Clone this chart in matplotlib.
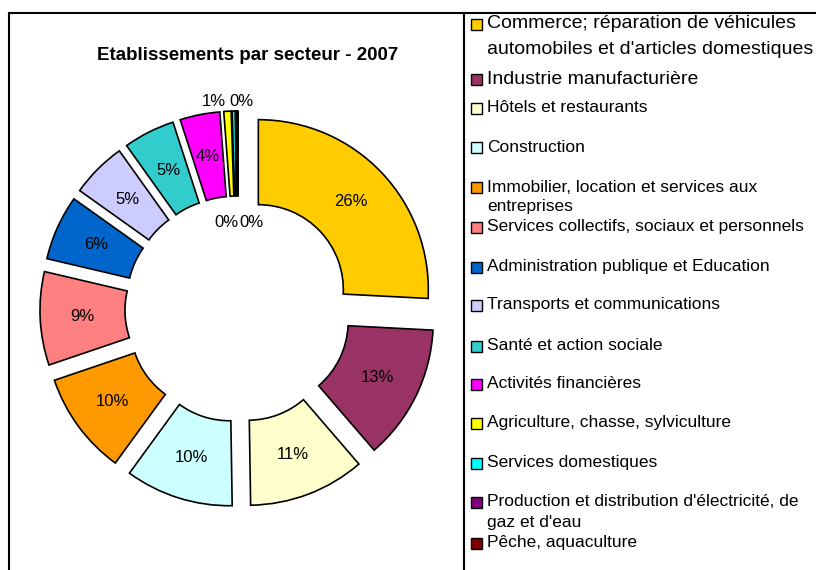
import numpy as np
import matplotlib.pyplot as plt
from matplotlib.lines import Line2D
from matplotlib.patches import Rectangle

plt.rcParams["font.family"] = ["Liberation Sans", "DejaVu Sans"]

# data
sectors = [
    "Commerce; réparation de véhicules\nautomobiles et d'articles domestiques",
    "Industrie manufacturière",
    "Hôtels et restaurants",
    "Construction",
    "Immobilier, location et services aux\nentreprises",
    "Services collectifs, sociaux et personnels",
    "Administration publique et Education",
    "Transports et communications",
    "Santé et action sociale",
    "Activités financières",
    "Agriculture, chasse, sylviculture",
    "Services domestiques",
    "Production et distribution d'électricité, de\ngaz et d'eau",
    "Pêche, aquaculture",
]
shares = [25.9, 12.9, 11.1, 10.3, 9.8, 8.9, 6.2, 5.3, 4.9, 3.8, 0.7, 0.3, 0.15, 0.05]
colors = ["#FFCC00", "#993366", "#FFFFCC", "#CCFFFF", "#FF9900", "#FF8080",
          "#0066CC", "#CCCCFF", "#33CCCC", "#FF00FF", "#FFFF00", "#00FFFF",
          "#800080", "#800000"]

# layout (pixels, figure is 816x570)
W, H = 816, 570
cx, cy, rpx = 238, 309, 170
legend_y = [24, 79, 108, 147, 187, 227, 267, 305, 346, 384, 423, 463, 502, 543]
legend_gap = [26, 0, 0, 0, 20, 0, 0, 0, 0, 0, 0, 0, 21, 0]
legend_size = [14, 14] + [12.5] * 12
# label spots for the tiny slices (data units)
small_label_xy = [(-0.14, 1.22), (0.02, 1.22), (-0.07, 0.51), (0.08, 0.51)]


def fx(x):
    return x / W


def fy(y):
    return 1 - y / H


fig = plt.figure(figsize=(W / 100, H / 100), dpi=100)

half = 220
ax = fig.add_axes([fx(cx - half), fy(cy + half), 2 * half / W, 2 * half / H])
wedges, _ = ax.pie(
    shares,
    colors=colors,
    startangle=90,
    counterclock=False,
    explode=[0.165] * len(shares),
    wedgeprops=dict(width=0.5, edgecolor="black", linewidth=1.2),
)
lim = half / rpx
ax.set_xlim(-lim, lim)
ax.set_ylim(-lim, lim)
ax.set_aspect("equal")
ax.axis("off")

total = sum(shares)
k = 0
for w, v in zip(wedges, shares):
    pct = 100 * v / total
    txt = "%.0f%%" % pct
    if pct >= 2:
        ang = np.deg2rad((w.theta1 + w.theta2) / 2)
        x = w.center[0] + 0.75 * np.cos(ang)
        y = w.center[1] + 0.75 * np.sin(ang)
    else:
        x, y = small_label_xy[k]
        k += 1
    ax.text(x, y, txt, ha="center", va="center", fontsize=12)

fig.text(fx(248), fy(55), "Etablissements par secteur - 2007",
         ha="center", va="center", fontsize=13.5, fontweight="bold")

# frames of chart area and legend
fig.add_artist(Line2D([fx(9), 1], [fy(13), fy(13)], color="black", lw=1.5))
fig.add_artist(Line2D([fx(9), fx(9)], [fy(13), 0], color="black", lw=1.5))
fig.add_artist(Line2D([fx(464), fx(464)], [fy(13), 0], color="black", lw=1.5))

# legend
for lab, col, y, gap, fs in zip(sectors, colors, legend_y, legend_gap, legend_size):
    fig.add_artist(Rectangle((fx(471), fy(y + 5.5)), 11 / W, 11 / H,
                             transform=fig.transFigure, facecolor=col,
                             edgecolor="black", lw=1))
    for i, line in enumerate(lab.split("\n")):
        fig.text(fx(487), fy(y + i * gap), line, ha="left", va="center",
                 fontsize=fs)

fig.savefig("out.png", dpi=100)
